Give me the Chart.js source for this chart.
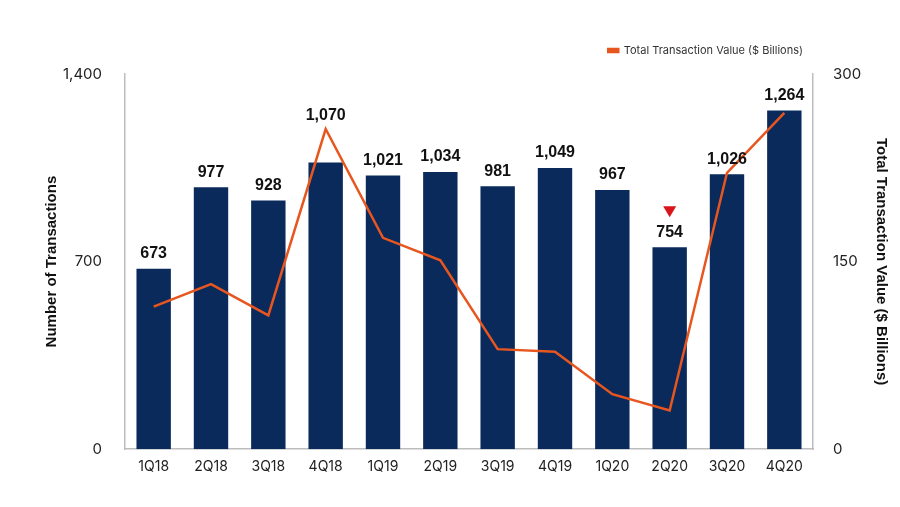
<!DOCTYPE html>
<html lang="en">
<head>
  <meta charset="UTF-8">
  <title>Transactions by quarter</title>
  <style>
    html, body { margin: 0; padding: 0; background: #fff; }
    .container { width: 900px; height: 507px; position: relative; }
  </style>
  <script src="https://cdn.jsdelivr.net/npm/chart.js@4.4.1/dist/chart.umd.min.js"></script>
</head>
<body>
  <div class="container">
    <canvas id="myChart"></canvas>
  </div>

  <script>
    // Data
    const quarters = ["1Q18", "2Q18", "3Q18", "4Q18", "1Q19", "2Q19", "3Q19", "4Q19", "1Q20", "2Q20", "3Q20", "4Q20"];
    const transactions = [673, 977, 928, 1070, 1021, 1034, 981, 1049, 967, 754, 1026, 1264];
    const transactionValue = [114, 132, 107, 256, 169, 151, 80, 78, 44, 31, 221, 269];
    const leftTicks = [0, 700, 1400];
    const rightTicks = [0, 150, 300];
    const downMarkerAt = "2Q20";

    const navy = "#0b2a5c";
    const orange = "#e8561f";
    const axisGrey = "#bdbdbd";
    const fontFamily = "Inter, 'Open Sans', sans-serif";

    // extra room between legend and plot, legend ends at the plot's right edge
    const legendGap = {
      id: "legendGap",
      beforeInit(chart) {
        const fit = chart.legend.fit;
        chart.legend.fit = function () {
          fit.bind(chart.legend)();
          this.height += 8;
        };
      },
      afterLayout(chart) {
        chart.legend.right = chart.chartArea.right;
      }
    };

    // bar value labels + red down arrow
    const barLabels = {
      id: "barLabels",
      afterDatasetsDraw(chart) {
        const { ctx } = chart;
        const bars = chart.getDatasetMeta(0).data;
        const pts = chart.getDatasetMeta(1).data;
        ctx.save();
        ctx.font = "bold 16px 'Liberation Sans', Arial, sans-serif";
        ctx.fillStyle = "#111";
        ctx.textAlign = "center";
        ctx.textBaseline = "bottom";
        bars.forEach((bar, i) => {
          // keep the label clear of the line when it peaks above the bar
          const bottom = Math.min(bar.y - 7, pts[i].y - 5);
          ctx.fillText(transactions[i].toLocaleString("en-US"), bar.x, bottom);
          if (quarters[i] === downMarkerAt) {
            const ty = bar.y - 30;
            ctx.fillStyle = "#d9141b";
            ctx.beginPath();
            ctx.moveTo(bar.x - 6.5, ty - 11);
            ctx.lineTo(bar.x + 6.5, ty - 11);
            ctx.lineTo(bar.x, ty);
            ctx.closePath();
            ctx.fill();
            ctx.fillStyle = "#111";
          }
        });
        ctx.restore();
      }
    };

    const ctx = document.getElementById("myChart").getContext("2d");
    new Chart(ctx, {
      data: {
        labels: quarters,
        datasets: [
          {
            type: "bar",
            label: "Number of Transactions",
            data: transactions,
            backgroundColor: navy,
            yAxisID: "y",
            categoryPercentage: 1,
            barPercentage: 0.6,
            order: 1
          },
          {
            type: "line",
            label: "Total Transaction Value ($ Billions)",
            data: transactionValue,
            borderColor: orange,
            backgroundColor: orange,
            borderWidth: 2.5,
            pointRadius: 0,
            tension: 0,
            yAxisID: "y1",
            order: 0
          }
        ]
      },
      options: {
        responsive: true,
        maintainAspectRatio: false,
        animation: false,
        layout: { padding: { left: 43, right: 10, top: 35, bottom: 23 } },
        plugins: {
          tooltip: { enabled: false },
          legend: {
            position: "top",
            align: "end",
            labels: {
              filter: (item) => item.datasetIndex === 1,
              boxWidth: 10,
              boxHeight: 3,
              color: "#333",
              font: { family: fontFamily, size: 11 },
              padding: 10
            }
          }
        },
        scales: {
          x: {
            grid: { display: false, drawTicks: false },
            border: { display: true, color: axisGrey, width: 1.5 },
            ticks: { color: "#222", font: { family: fontFamily, size: 14 }, padding: 9 }
          },
          y: {
            position: "left",
            min: 0,
            max: 1400,
            afterBuildTicks: (s) => { s.ticks = leftTicks.map(v => ({ value: v })); },
            afterFit: (s) => { s.width = 82; },
            grid: { display: false, drawTicks: false },
            border: { display: true, color: axisGrey, width: 1.5 },
            ticks: {
              color: "#222",
              font: { family: fontFamily, size: 15 },
              padding: 23,
              callback: (v) => v.toLocaleString("en-US")
            },
            title: {
              display: true,
              text: "Number of Transactions",
              color: "#111",
              font: { family: "'Liberation Sans', Arial, sans-serif", size: 15, weight: "bold" },
              padding: 0
            }
          },
          y1: {
            position: "right",
            min: 0,
            max: 300,
            afterBuildTicks: (s) => { s.ticks = rightTicks.map(v => ({ value: v })); },
            afterFit: (s) => { s.width = 77; },
            grid: { display: false, drawTicks: false },
            border: { display: true, color: axisGrey, width: 1.5 },
            ticks: {
              color: "#222",
              font: { family: fontFamily, size: 15 },
              padding: 20
            },
            title: {
              display: true,
              text: "Total Transaction Value ($ Billions)",
              color: "#111",
              font: { family: "'Liberation Sans', Arial, sans-serif", size: 15, weight: "bold" },
              padding: 0
            }
          }
        }
      },
      plugins: [legendGap, barLabels]
    });
  </script>
</body>
</html>
